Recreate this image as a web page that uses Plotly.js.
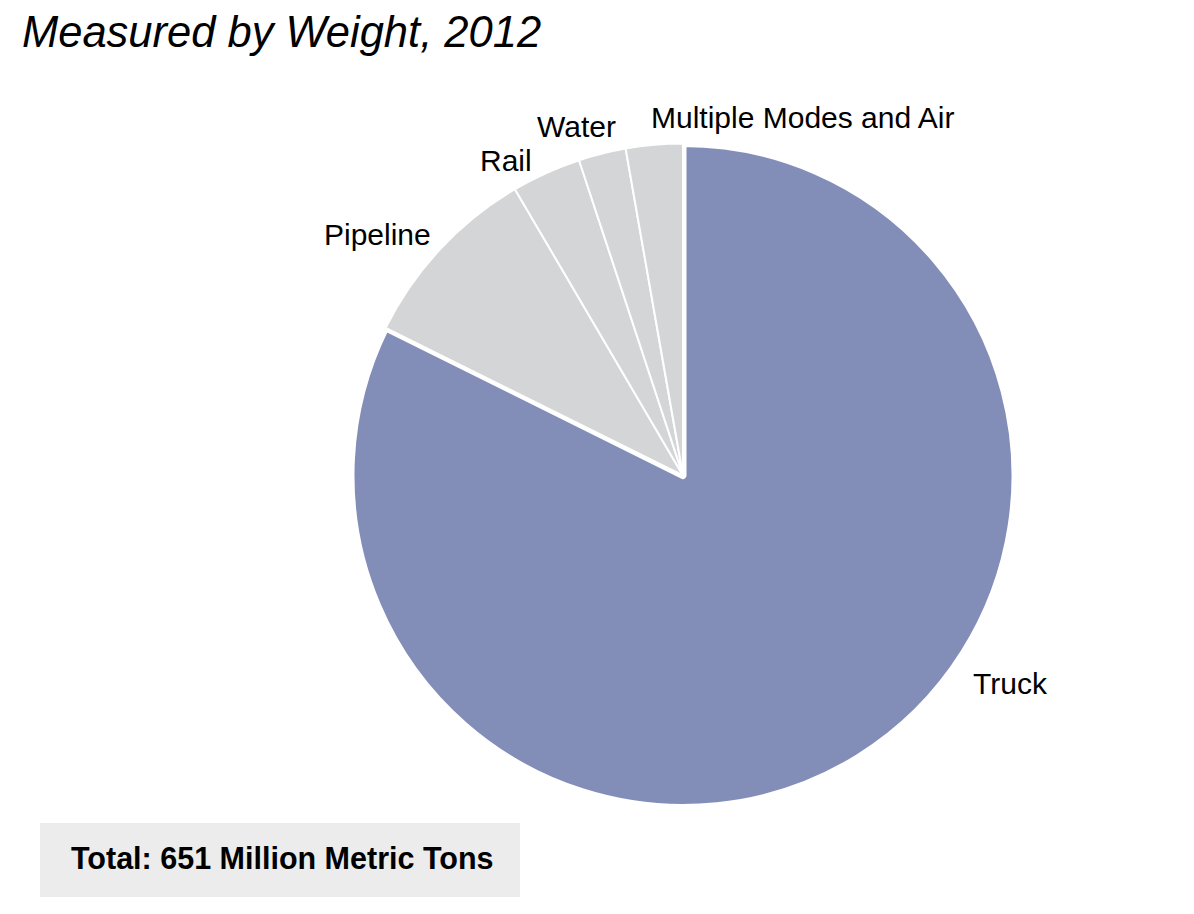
<!DOCTYPE html>
<html>
<head>
<meta charset="utf-8">
<script src="https://cdn.plot.ly/plotly-3.0.1.min.js"></script>
<style>
  html, body { margin: 0; padding: 0; background: #ffffff; }
  #chart { width: 1194px; height: 914px; }
</style>
</head>
<body>
<div id="chart"></div>
<script>
// Data (million metric tons, 2012)
const modes = ["Truck", "Pipeline", "Rail", "Water", "Multiple Modes and Air"];
const tons = [536, 60, 22, 15, 18];
const sliceColors = ["#838eb8", "#d4d5d7", "#d4d5d7", "#d4d5d7", "#d4d5d7"];
const titleText = "Measured by Weight, 2012";
const totalText = "Total: 651 Million Metric Tons";

const W = 1194, H = 914;
const FONT = '"Liberation Sans", Arial, Helvetica, sans-serif';

// label anchor points in pixels (text centre)
const labelPos = [
  [1011, 683],
  [377, 234],
  [506, 160],
  [576, 126],
  [803, 117]
];

const px = x => x / W;
const py = y => 1 - y / H;

const cx = 683, cy = 475.5, R = 332;

const trace = {
  type: "pie",
  labels: modes,
  values: tons,
  sort: false,
  direction: "clockwise",
  rotation: 0,
  textinfo: "none",
  hoverinfo: "label+value",
  marker: {
    colors: sliceColors,
    line: { color: "#ffffff", width: [7, 2, 2, 2, 2] }
  },
  domain: { x: [px(cx - R), px(cx + R)], y: [py(cy + R), py(cy - R)] },
  showlegend: false
};

const annotations = modes.map((m, i) => ({
  text: m,
  xref: "paper", yref: "paper",
  x: px(labelPos[i][0]), y: py(labelPos[i][1]),
  xanchor: "center", yanchor: "middle",
  showarrow: false,
  font: { family: FONT, size: 30, color: "#000000" }
}));

annotations.push({
  text: "<i>" + titleText + "</i>",
  xref: "paper", yref: "paper",
  x: px(20), y: py(32),
  xanchor: "left", yanchor: "middle",
  showarrow: false,
  font: { family: FONT, size: 43.5, color: "#000000" }
});

annotations.push({
  text: "<b>" + totalText + "</b>",
  xref: "paper", yref: "paper",
  x: px(282), y: py(858),
  xanchor: "center", yanchor: "middle",
  showarrow: false,
  font: { family: FONT, size: 30.5, color: "#000000" }
});

const layout = {
  width: W, height: H,
  margin: { l: 0, r: 0, t: 0, b: 0 },
  paper_bgcolor: "#ffffff",
  plot_bgcolor: "#ffffff",
  showlegend: false,
  shapes: [{
    type: "rect", xref: "paper", yref: "paper",
    x0: px(40), x1: px(520), y0: py(897), y1: py(823),
    fillcolor: "#ebeceb", line: { width: 0 }, layer: "below"
  }],
  annotations: annotations
};

Plotly.newPlot("chart", [trace], layout, { displayModeBar: false, staticPlot: true });
</script>
</body>
</html>
